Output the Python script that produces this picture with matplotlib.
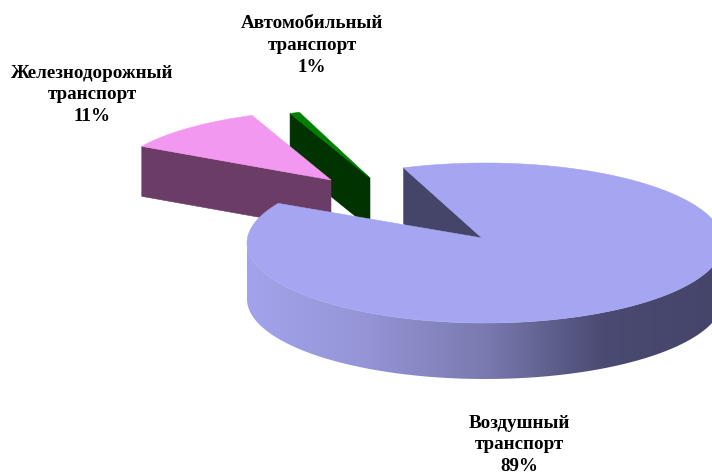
import numpy as np
import matplotlib
matplotlib.use("Agg")
import matplotlib.pyplot as plt
from matplotlib.patches import Polygon
from matplotlib.colors import LinearSegmentedColormap

categories = ["Воздушный\nтранспорт", "Железнодорожный\nтранспорт", "Автомобильный\nтранспорт"]
values = [88.8, 10.5, 0.7]
percent_labels = ["89%", "11%", "1%"]
start_angle = 110.0

fig = plt.figure(figsize=(7.12, 4.73), dpi=100)
ax = fig.add_axes([0, 0, 1, 1])
ax.set_xlim(0, 712)
ax.set_ylim(473, 0)
ax.axis("off")

spans = [v / sum(values) * 360 for v in values]
ends = start_angle - np.cumsum(spans)
starts = ends + np.array(spans)


def arc(cx, cy, a, b, t0, t1, n=200):
    t = np.radians(np.linspace(t0, t1, n))
    return np.column_stack([cx + a * np.cos(t), cy - b * np.sin(t)])


def poly(pts, color, z):
    ax.add_patch(Polygon(pts, closed=True, fc=color, ec=color, lw=0.4, zorder=z))


# automobile slice (exploded, far away)
a, b, d = 227, 72, 50
apex = np.array([370.0, 178.0])
rim = arc(377, 180, a, b, starts[2], ends[2], 10)
p = rim[0]
poly([p, apex, apex + [0, d], p + [0, d]], "#003300", 1)
poly(np.vstack([rim, apex]), "#008000", 2)

# railway slice
apex = np.array([331.0, 180.0])
rim = arc(339, 182, a, b, starts[1], ends[1], 60)
p = rim[0]
poly([p, apex, apex + [0, d], p + [0, d]], "#6b3c66", 3)
poly(np.vstack([rim, apex]), "#f298f0", 4)

# air slice
cx, cy, a, b, d = 485.0, 243.0, 238.0, 80.0, 56.0
apex = np.array([482.0, 238.0])
rim = arc(cx, cy, a, b, starts[0], ends[0], 400)
p = rim[0]
poly([p, apex, apex + [0, d], p + [0, d]], "#45456a", 5)
side_top = arc(cx, cy, a, b, 180, 360, 300)
side = np.vstack([side_top, side_top[::-1] + [0, d]])
cmap = LinearSegmentedColormap.from_list(
    "side", [(0, "#a3a3ec"), (0.25, "#9494d6"), (0.5, "#7a7ab0"), (0.75, "#4a4a72"), (1, "#45456a")])
img = ax.imshow(np.linspace(0, 1, 480)[None, :], cmap=cmap, aspect="auto",
                extent=[cx - a, cx + a, cy + b + d, cy - b], zorder=6, interpolation="bilinear")
sp = Polygon(side, closed=True, transform=ax.transData, fc="none", ec="none")
ax.add_patch(sp)
img.set_clip_path(sp)
ax.set_xlim(0, 712)
ax.set_ylim(473, 0)
poly(np.vstack([rim, apex]), "#a5a5f2", 7)

font = dict(family="Liberation Serif", fontweight="bold", fontsize=13.7, color="#000000",
            ha="center", va="center", zorder=10)
positions = [(519, 423), (92, 73), (312, 24)]
line_h = 21.5
for cat, pct, (x, y) in zip(categories, percent_labels, positions):
    for i, line in enumerate(cat.split("\n") + [pct]):
        ax.text(x, y + i * line_h, line, **font)

fig.savefig("out.png", dpi=100, facecolor="white")
